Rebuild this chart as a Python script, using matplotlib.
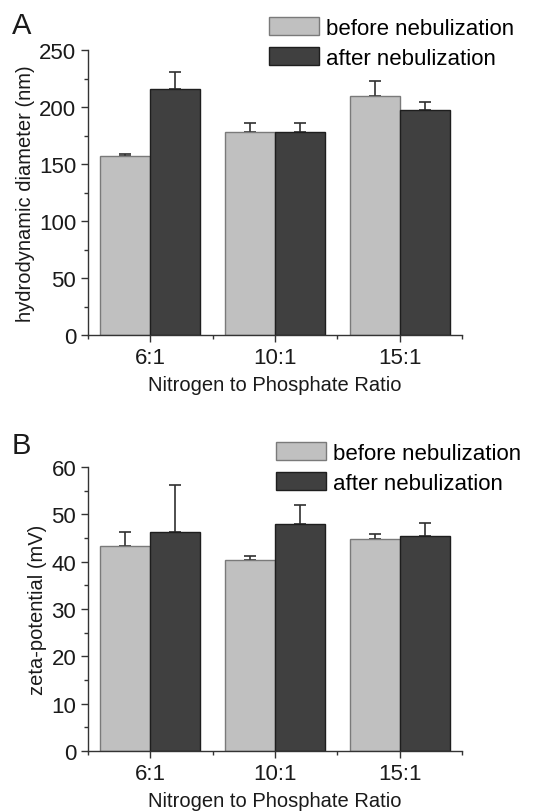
import numpy as np
import matplotlib.pyplot as plt
from matplotlib.ticker import MultipleLocator

plt.rcParams['font.family'] = ['Liberation Sans', 'DejaVu Sans']

ratios = ['6:1', '10:1', '15:1']
size_before = [157.3, 178.3, 209.6]
size_before_err = [1.5, 8.0, 13.0]
size_after = [215.5, 178.0, 197.6]
size_after_err = [15.0, 8.0, 7.0]
zeta_before = [43.4, 40.4, 44.8]
zeta_before_err = [2.8, 0.9, 1.0]
zeta_after = [46.2, 48.0, 45.4]
zeta_after_err = [10.1, 3.9, 2.8]

light = '#c0c0c0'
dark = '#404040'

fig = plt.figure(figsize=(5.38, 8.12), dpi=100)
axA = fig.add_axes([88/538, 1-336/812, 374/538, 285/812])
axB = fig.add_axes([88/538, 1-752/812, 374/538, 284/812])


def draw(ax, before, before_err, after, after_err, ymax, ystep, ylabel, leg_anchor):
    x = np.arange(len(ratios))
    w = 0.4
    ax.bar(x - w/2, before, w, color=light, edgecolor='#7a7a7a', linewidth=1,
           label='before nebulization', zorder=2)
    ax.bar(x + w/2, after, w, color=dark, edgecolor='#1e1e1e', linewidth=1,
           label='after nebulization', zorder=2)
    ax.errorbar(x - w/2, before, yerr=[np.zeros(3), before_err], fmt='none',
                ecolor='#303030', elinewidth=1.2, capsize=4, capthick=1.2, zorder=1)
    ax.errorbar(x + w/2, after, yerr=[np.zeros(3), after_err], fmt='none',
                ecolor='#303030', elinewidth=1.2, capsize=4, capthick=1.2, zorder=1)
    ax.set_xlim(-0.5, 2.5)
    ax.set_ylim(0, ymax)
    ax.set_xticks(x)
    ax.set_xticklabels(ratios)
    ax.xaxis.set_minor_locator(MultipleLocator(1, offset=0.5))
    ax.yaxis.set_major_locator(MultipleLocator(ystep))
    ax.yaxis.set_minor_locator(MultipleLocator(ystep/2))
    for s in ['top', 'right']:
        ax.spines[s].set_visible(False)
    for s in ['left', 'bottom']:
        ax.spines[s].set_color('#333333')
        ax.spines[s].set_linewidth(1)
    ax.tick_params(which='major', direction='out', length=5, width=1,
                   labelsize=16, colors='#333333', labelcolor='#1a1a1a')
    ax.tick_params(which='minor', direction='out', length=3, width=1, colors='#333333')
    ax.set_ylabel(ylabel, fontsize=14.5, color='#1a1a1a', labelpad=3)
    ax.set_xlabel('Nitrogen to Phosphate Ratio', fontsize=14.5, color='#1a1a1a', labelpad=5)
    ax.legend(loc='upper left', bbox_to_anchor=leg_anchor, bbox_transform=fig.transFigure,
              frameon=False, fontsize=16, handlelength=2.25, handleheight=0.9,
              handletextpad=0.3, labelspacing=0.35, borderpad=0, borderaxespad=0)


draw(axA, size_before, size_before_err, size_after, size_after_err, 250, 50,
     'hydrodynamic diameter (nm)', (269/538, 1-18/812))
draw(axB, zeta_before, zeta_before_err, zeta_after, zeta_after_err, 60, 10,
     'zeta-potential (mV)', (276/538, 1-443/812))

fig.text(12/538, 1-34/812, 'A', fontsize=21, color='#1a1a1a')
fig.text(12/538, 1-454/812, 'B', fontsize=21, color='#1a1a1a')

fig.savefig('out.png', dpi=100)
